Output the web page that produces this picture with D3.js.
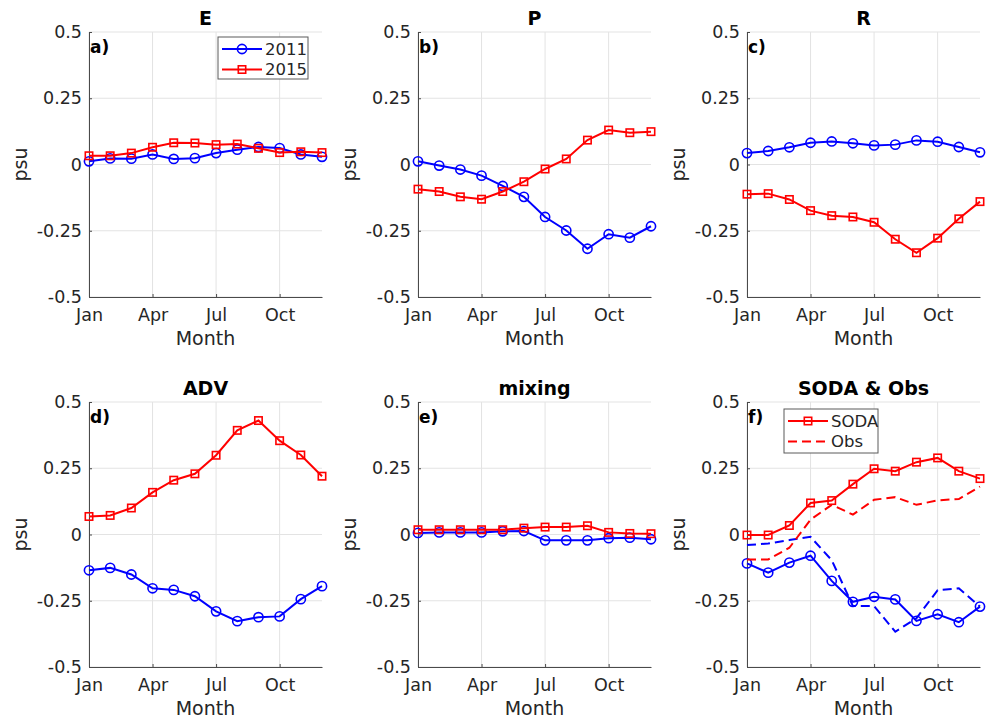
<!DOCTYPE html>
<html>
<head>
  <meta charset="UTF-8">
  <title>Salinity budget terms 2011 vs 2015</title>
  <script src="https://d3js.org/d3.v7.min.js"></script>
  <style>
    body { margin: 0; background: #fff; }
    svg { display: block; font-family: 'DejaVu Sans', sans-serif; }
    .grid line { stroke: #e3e3e3; stroke-width: 1; }
    .axis path, .axis line { stroke: #4a4a4a; }
  </style>
</head>
<body>
  <svg width="992" height="720"></svg>
  <script>
    // months and axis ticks
    const months = [1, 2, 3, 4, 5, 6, 7, 8, 9, 10, 11, 12];
    const monthTicks = [1, 4, 7, 10];
    const monthLabels = ["Jan", "Apr", "Jul", "Oct"];
    const yTicks = [-0.5, -0.25, 0, 0.25, 0.5];
    const yTickLabels = ["-0.5", "-0.25", "0", "0.25", "0.5"];

    // series values (psu)
    const E_2011 = [0.012, 0.023, 0.022, 0.038, 0.021, 0.024, 0.043, 0.056, 0.066, 0.062, 0.038, 0.029];
    const E_2015 = [0.033, 0.033, 0.043, 0.065, 0.082, 0.081, 0.075, 0.077, 0.061, 0.045, 0.048, 0.045];
    const P_2011 = [0.012, -0.004, -0.019, -0.042, -0.081, -0.122, -0.198, -0.249, -0.318, -0.263, -0.276, -0.233];
    const P_2015 = [-0.093, -0.102, -0.122, -0.131, -0.102, -0.065, -0.017, 0.021, 0.092, 0.130, 0.120, 0.124];
    const R_2011 = [0.043, 0.051, 0.065, 0.082, 0.087, 0.080, 0.072, 0.075, 0.091, 0.086, 0.066, 0.046];
    const R_2015 = [-0.112, -0.110, -0.132, -0.174, -0.193, -0.198, -0.218, -0.282, -0.333, -0.278, -0.205, -0.140];
    const ADV_2011 = [-0.135, -0.126, -0.151, -0.203, -0.209, -0.233, -0.290, -0.327, -0.312, -0.309, -0.244, -0.195];
    const ADV_2015 = [0.068, 0.072, 0.100, 0.159, 0.205, 0.229, 0.299, 0.393, 0.430, 0.354, 0.300, 0.220];
    const mix_2011 = [0.006, 0.008, 0.008, 0.008, 0.012, 0.013, -0.022, -0.022, -0.022, -0.014, -0.012, -0.018];
    const mix_2015 = [0.018, 0.018, 0.018, 0.018, 0.018, 0.024, 0.028, 0.028, 0.033, 0.008, 0.004, 0.003];
    const soda_2011 = [-0.109, -0.144, -0.106, -0.080, -0.175, -0.254, -0.235, -0.245, -0.326, -0.301, -0.331, -0.272];
    const soda_2015 = [-0.002, -0.002, 0.034, 0.119, 0.128, 0.190, 0.248, 0.239, 0.273, 0.289, 0.239, 0.211];
    const obs_2011 = [-0.040, -0.034, -0.021, -0.009, -0.097, -0.270, -0.270, -0.367, -0.316, -0.210, -0.203, -0.272];
    const obs_2015 = [-0.094, -0.094, -0.050, 0.056, 0.112, 0.075, 0.131, 0.141, 0.112, 0.129, 0.134, 0.181];

    const BLUE = "#0000ff", RED = "#ff0000";

    const panels = [
      { title: "E", tag: "a)", series: [
          { v: E_2011, c: BLUE, m: "circle" }, { v: E_2015, c: RED, m: "square" }] },
      { title: "P", tag: "b)", series: [
          { v: P_2011, c: BLUE, m: "circle" }, { v: P_2015, c: RED, m: "square" }] },
      { title: "R", tag: "c)", series: [
          { v: R_2011, c: BLUE, m: "circle" }, { v: R_2015, c: RED, m: "square" }] },
      { title: "ADV", tag: "d)", series: [
          { v: ADV_2011, c: BLUE, m: "circle" }, { v: ADV_2015, c: RED, m: "square" }] },
      { title: "mixing", tag: "e)", series: [
          { v: mix_2011, c: BLUE, m: "circle" }, { v: mix_2015, c: RED, m: "square" }] },
      { title: "SODA & Obs", tag: "f)", series: [
          { v: soda_2011, c: BLUE, m: "circle" }, { v: soda_2015, c: RED, m: "square" },
          { v: obs_2011, c: BLUE, dash: true }, { v: obs_2015, c: RED, dash: true }] }
    ];

    // panel geometry
    const colLeft = [89, 418, 747], rowTop = [32, 402];
    const pw = 233, ph = 265;

    const svg = d3.select("svg");

    const x = d3.scaleLinear().domain([1, 12]).range([0, pw]);
    const y = d3.scaleLinear().domain([-0.5, 0.5]).range([ph, 0]);
    const line = d3.line().x((d, i) => x(months[i])).y(d => y(d));

    function marker(sel, kind, color) {
      if (kind === "circle") {
        sel.append("circle").attr("r", 4.6)
          .attr("fill", "none").attr("stroke", color).attr("stroke-width", 1.6);
      } else {
        sel.append("rect").attr("x", -3.7).attr("y", -3.7).attr("width", 7.4).attr("height", 7.4)
          .attr("fill", "none").attr("stroke", color).attr("stroke-width", 1.6);
      }
    }

    function styleTicks(a) {
      a.attr("font-family", "'DejaVu Sans', sans-serif").attr("font-size", 17.5);
      a.selectAll("text").attr("fill", "#262626");
    }

    panels.forEach((p, k) => {
      const g = svg.append("g")
        .attr("transform", `translate(${colLeft[k % 3]},${rowTop[Math.floor(k / 3)]})`);

      // grid
      const grid = g.append("g").attr("class", "grid");
      grid.selectAll(".gx").data(monthTicks).join("line")
        .attr("x1", d => x(d)).attr("x2", d => x(d)).attr("y1", 0).attr("y2", ph);
      grid.selectAll(".gy").data(yTicks).join("line")
        .attr("x1", 0).attr("x2", pw).attr("y1", d => y(d)).attr("y2", d => y(d));

      // axes
      g.append("g").attr("class", "axis")
        .attr("transform", `translate(0,${ph})`)
        .call(d3.axisBottom(x).tickValues(monthTicks)
          .tickFormat((d, i) => monthLabels[i]).tickSizeInner(-3).tickSizeOuter(0).tickPadding(8))
        .call(styleTicks)
        .call(a => a.selectAll("text").attr("y", 10).attr("dy", "0.78em"));
      g.append("g").attr("class", "axis")
        .call(d3.axisLeft(y).tickValues(yTicks)
          .tickFormat((d, i) => yTickLabels[i]).tickSizeInner(-3).tickSizeOuter(0).tickPadding(8))
        .call(styleTicks)
        .call(a => a.selectAll("text").attr("x", -7));

      // series
      p.series.forEach(s => {
        g.append("path").datum(s.v)
          .attr("d", line).attr("fill", "none")
          .attr("stroke", s.c).attr("stroke-width", 2)
          .attr("stroke-dasharray", s.dash ? "9,5" : null);
        if (s.m) {
          g.selectAll(null).data(s.v).join("g")
            .attr("transform", (d, i) => `translate(${x(months[i])},${y(d)})`)
            .each(function () { marker(d3.select(this), s.m, s.c); });
        }
      });

      // title, labels
      g.append("text").attr("x", pw / 2).attr("y", -7).attr("text-anchor", "middle")
        .attr("font-size", 19).attr("font-weight", "bold").attr("fill", "#000").text(p.title);
      g.append("text").attr("x", 1).attr("y", 21)
        .attr("font-size", 17).attr("font-weight", "bold").attr("fill", "#000").text(p.tag);
      g.append("text").attr("x", pw / 2).attr("y", ph + 48).attr("text-anchor", "middle")
        .attr("font-size", 19).attr("fill", "#262626").text("Month");
      g.append("text").attr("transform", `translate(-62,${ph / 2}) rotate(-90)`)
        .attr("text-anchor", "middle").attr("font-size", 19).attr("fill", "#262626").text("psu");
    });

    // legends
    function legend(x0, y0, w, h, items) {
      const lg = svg.append("g").attr("transform", `translate(${x0},${y0})`);
      lg.append("rect").attr("width", w).attr("height", h)
        .attr("fill", "#fff").attr("stroke", "#5a5a5a").attr("stroke-width", 1);
      items.forEach((it, i) => {
        const cy = 12 + i * 20.5;
        lg.append("line").attr("x1", 4).attr("x2", 44).attr("y1", cy).attr("y2", cy)
          .attr("stroke", it.c).attr("stroke-width", 2)
          .attr("stroke-dasharray", it.dash ? "9,5" : null);
        if (it.m) marker(lg.append("g").attr("transform", `translate(24,${cy})`), it.m, it.c);
        lg.append("text").attr("x", 47).attr("y", cy).attr("dy", "0.36em")
          .attr("font-size", 16.5).attr("fill", "#262626").text(it.label);
      });
    }
    legend(218, 37, 90, 42, [
      { label: "2011", c: BLUE, m: "circle" },
      { label: "2015", c: RED, m: "square" }]);
    legend(784, 409, 94, 44, [
      { label: "SODA", c: RED, m: "square" },
      { label: "Obs", c: RED, dash: true }]);
  </script>
</body>
</html>
